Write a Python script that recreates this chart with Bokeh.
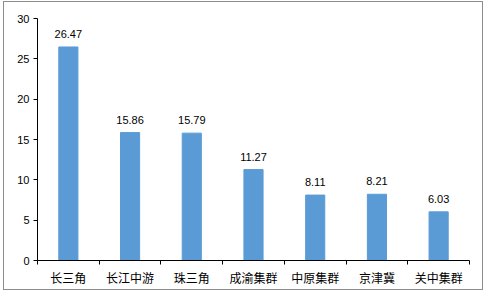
from bokeh.plotting import figure
from bokeh.layouts import column
from bokeh.models import ColumnDataSource, Range1d, FixedTicker, LabelSet
from bokeh.core.properties import value
from bokeh.embed import file_html
from bokeh.resources import INLINE

categories = ["长三角", "长江中游", "珠三角", "成渝集群", "中原集群", "京津冀", "关中集群"]
values = [26.47, 15.86, 15.79, 11.27, 8.11, 8.21, 6.03]
y_ticks = [0, 5, 10, 15, 20, 25, 30]

xs = [i + 0.5 for i in range(len(categories))]
src = ColumnDataSource(dict(x=xs, top=values, label=[f"{v:.2f}" for v in values]))

p = figure(width=478, height=287, output_backend="svg", toolbar_location=None,
           x_range=Range1d(0, len(categories)), y_range=Range1d(0, 30))
p.min_border_left = 33
p.min_border_right = 13
p.min_border_top = 16
p.min_border_bottom = 29
p.outline_line_color = None
p.xgrid.visible = False
p.ygrid.visible = False
p.background_fill_color = "white"
p.border_fill_color = "white"

p.vbar(x="x", top="top", width=0.31, bottom=0, source=src, color="#5B9BD5")

labels = LabelSet(x="x", y="top", text="label", source=src, text_align="center",
                  text_baseline="bottom", y_offset=9, text_font=value("Liberation Sans"),
                  text_font_size="11px", text_color="#000000")
p.add_layout(labels)

xa = p.xaxis[0]
xa.ticker = FixedTicker(ticks=xs, minor_ticks=list(range(len(categories) + 1)))
xa.major_label_overrides = {x: c for x, c in zip(xs, categories)}
xa.major_tick_line_color = None
xa.major_tick_in = 0
xa.major_tick_out = 4
xa.minor_tick_line_color = "#000000"
xa.minor_tick_in = 0
xa.minor_tick_out = 4
xa.axis_line_color = "#000000"
xa.major_label_text_font = "Noto Sans CJK SC"
xa.major_label_text_font_size = "12px"
xa.major_label_text_color = "#000000"
xa.major_label_standoff = 4

ya = p.yaxis[0]
ya.ticker = FixedTicker(ticks=y_ticks)
ya.major_tick_in = 0
ya.major_tick_out = 4
ya.minor_tick_line_color = None
ya.axis_line_color = "#000000"
ya.major_tick_line_color = "#000000"
ya.major_label_text_font = "Liberation Sans"
ya.major_label_text_font_size = "11px"
ya.major_label_text_color = "#000000"
ya.major_label_standoff = 4

layout = column(p, styles={"border": "1px solid #8c8c8c", "margin-left": "3px",
                           "margin-top": "1px"})

open("out.html", "w").write(file_html(layout, INLINE))
